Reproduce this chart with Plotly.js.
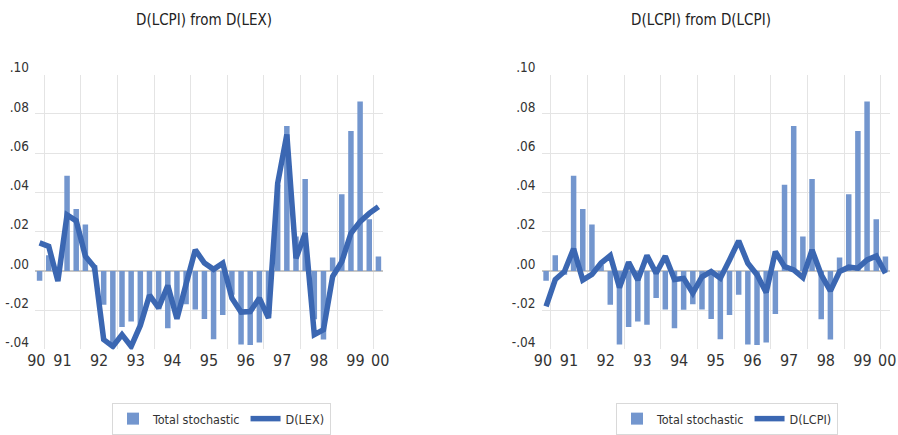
<!DOCTYPE html>
<html>
<head>
<meta charset="utf-8">
<script src="https://cdn.plot.ly/plotly-3.0.1.min.js"></script>
<style>html,body{margin:0;padding:0;background:#fff;}#chart{width:898px;height:435px;}</style>
</head>
<body>
<div id="chart"></div>
<script>
// Quarterly observations (index 0..37)
const quarters = [0,1,2,3,4,5,6,7,8,9,10,11,12,13,14,15,16,17,18,19,20,21,22,23,24,25,26,27,28,29,30,31,32,33,34,35,36,37];

const totalStochastic = [-0.005,0.008,-0.002,0.0485,0.0315,0.0236,0.003,-0.0173,-0.0375,-0.0286,
  -0.0258,-0.0275,-0.0138,-0.0197,-0.0292,-0.0198,-0.0170,-0.0197,-0.0245,-0.0348,
  -0.0225,-0.0121,-0.0375,-0.0378,-0.0365,-0.022,0.0439,0.0739,0.0175,0.0468,
  -0.0247,-0.0349,0.0068,0.039,0.0713,0.0863,0.0263,0.0073];

const dLEX = [0.0143,0.0125,-0.0052,0.0285,0.0255,0.0075,0.0018,-0.035,-0.0385,-0.0325,
  -0.0385,-0.0278,-0.0124,-0.0188,-0.0075,-0.0244,-0.0067,0.0107,0.004,0.0008,
  0.0039,-0.0139,-0.021,-0.0207,-0.0139,-0.0241,0.0446,0.0695,0.0064,0.0192,
  -0.0325,-0.030,-0.0029,0.0047,0.0192,0.0251,0.0293,0.0327];

const dLCPI = [-0.0181,-0.0044,-0.0003,0.0113,-0.0047,-0.0018,0.004,0.0078,-0.0085,0.0044,
  -0.0047,0.0078,-0.0012,0.0075,-0.0044,-0.0038,-0.0113,-0.003,-0.0003,-0.0037,
  0.0056,0.0153,0.0039,-0.002,-0.011,0.0098,0.0022,0.0005,-0.0034,0.0107,
  -0.002,-0.0102,-0.0003,0.0019,0.0014,0.0056,0.0076,-0.0012];

const yearLabels = ["90","91","92","93","94","95","96","97","98","99","00"];
const yearLabelPos = [-0.35,2.5,6.5,10.5,14.5,18.5,22.5,26.5,30.5,34.5,37.2];
const yearGridPos = [0.5,4.5,8.5,12.5,16.5,20.5,24.5,28.5,32.5,36.5];
const yTickVals = [-0.04,-0.02,0,0.02,0.04,0.06,0.08,0.10];
const yTickText = ["-.04","-.02",".00",".02",".04",".06",".08",".10"];

const titles = ["D(LCPI) from D(LEX)", "D(LCPI) from D(LCPI)"];
const lineNames = ["D(LEX)", "D(LCPI)"];

const barColor = "#7396ce";
const lineColor = "#3b67b2";
const FONT = '"DejaVu Sans Condensed", "Liberation Sans", sans-serif';

const traces = [
  {type:"bar", x:quarters, y:totalStochastic, name:"Total stochastic", xaxis:"x", yaxis:"y",
   marker:{color:barColor, line:{width:0}}, legend:"legend", hoverinfo:"skip"},
  {type:"scatter", mode:"lines", x:quarters, y:dLEX, name:lineNames[0], xaxis:"x", yaxis:"y",
   line:{color:lineColor, width:5.5}, legend:"legend"},
  {type:"bar", x:quarters, y:totalStochastic, name:"Total stochastic", xaxis:"x2", yaxis:"y2",
   marker:{color:barColor, line:{width:0}}, legend:"legend2"},
  {type:"scatter", mode:"lines", x:quarters, y:dLCPI, name:lineNames[1], xaxis:"x2", yaxis:"y2",
   line:{color:lineColor, width:5.5}, legend:"legend2"}
];

function xAxis(domain, anchor){
  return {domain:domain, anchor:anchor, range:[-0.5,37.5], showgrid:false, zeroline:false,
    tickmode:"array", tickvals:yearLabelPos, ticktext:yearLabels, ticks:"", showline:false,
    tickfont:{family:FONT, size:16, color:"#333"},
    minor:{tickmode:"array", tickvals:yearGridPos, showgrid:true, gridcolor:"#e4e4e4", gridwidth:1, ticks:""}};
}
function yAxis(domain, anchor){
  return {domain:domain, anchor:anchor, range:[-0.04,0.10], showgrid:true, gridcolor:"#e4e4e4", gridwidth:1,
    zeroline:true, zerolinecolor:"#c6c6c6", zerolinewidth:1.5,
    tickmode:"array", tickvals:yTickVals, ticktext:yTickText, ticks:"", showline:false,
    ticklabelshift:-7, ticklabelstandoff:5,
    tickfont:{family:FONT, size:13.5, color:"#333"}};
}

const W = 898, H = 435;
const yDom = [1-351/H, 1-75/H];

const layout = {
  width:W, height:H, margin:{l:0,r:0,t:0,b:0}, paper_bgcolor:"#fff", plot_bgcolor:"#fff",
  font:{family:FONT, color:"#333"},
  bargap:0.4, showlegend:true,
  xaxis: xAxis([35/W, 383/W], "y"),
  yaxis: yAxis(yDom, "x"),
  xaxis2: xAxis([541.5/W, 890/W], "y2"),
  yaxis2: yAxis(yDom, "x2"),
  legend:{orientation:"h", x:112/W, y:1-405/H, xanchor:"left", yanchor:"top",
    bordercolor:"#d9d9d9", borderwidth:1, font:{family:FONT, size:12.5, color:"#333"}, itemwidth:30, traceorder:"normal"},
  legend2:{orientation:"h", x:616/W, y:1-405/H, xanchor:"left", yanchor:"top",
    bordercolor:"#d9d9d9", borderwidth:1, font:{family:FONT, size:12.5, color:"#333"}, itemwidth:30, traceorder:"normal"},
  annotations:[
    {text:titles[0], xref:"paper", yref:"paper", x:204/W, y:1-20/H, xanchor:"center", yanchor:"middle",
     showarrow:false, font:{family:FONT, size:15, color:"#222"}},
    {text:titles[1], xref:"paper", yref:"paper", x:701/W, y:1-20/H, xanchor:"center", yanchor:"middle",
     showarrow:false, font:{family:FONT, size:15, color:"#222"}}
  ]
};

Plotly.newPlot("chart", traces, layout, {displayModeBar:false, staticPlot:true});
</script>
</body>
</html>
